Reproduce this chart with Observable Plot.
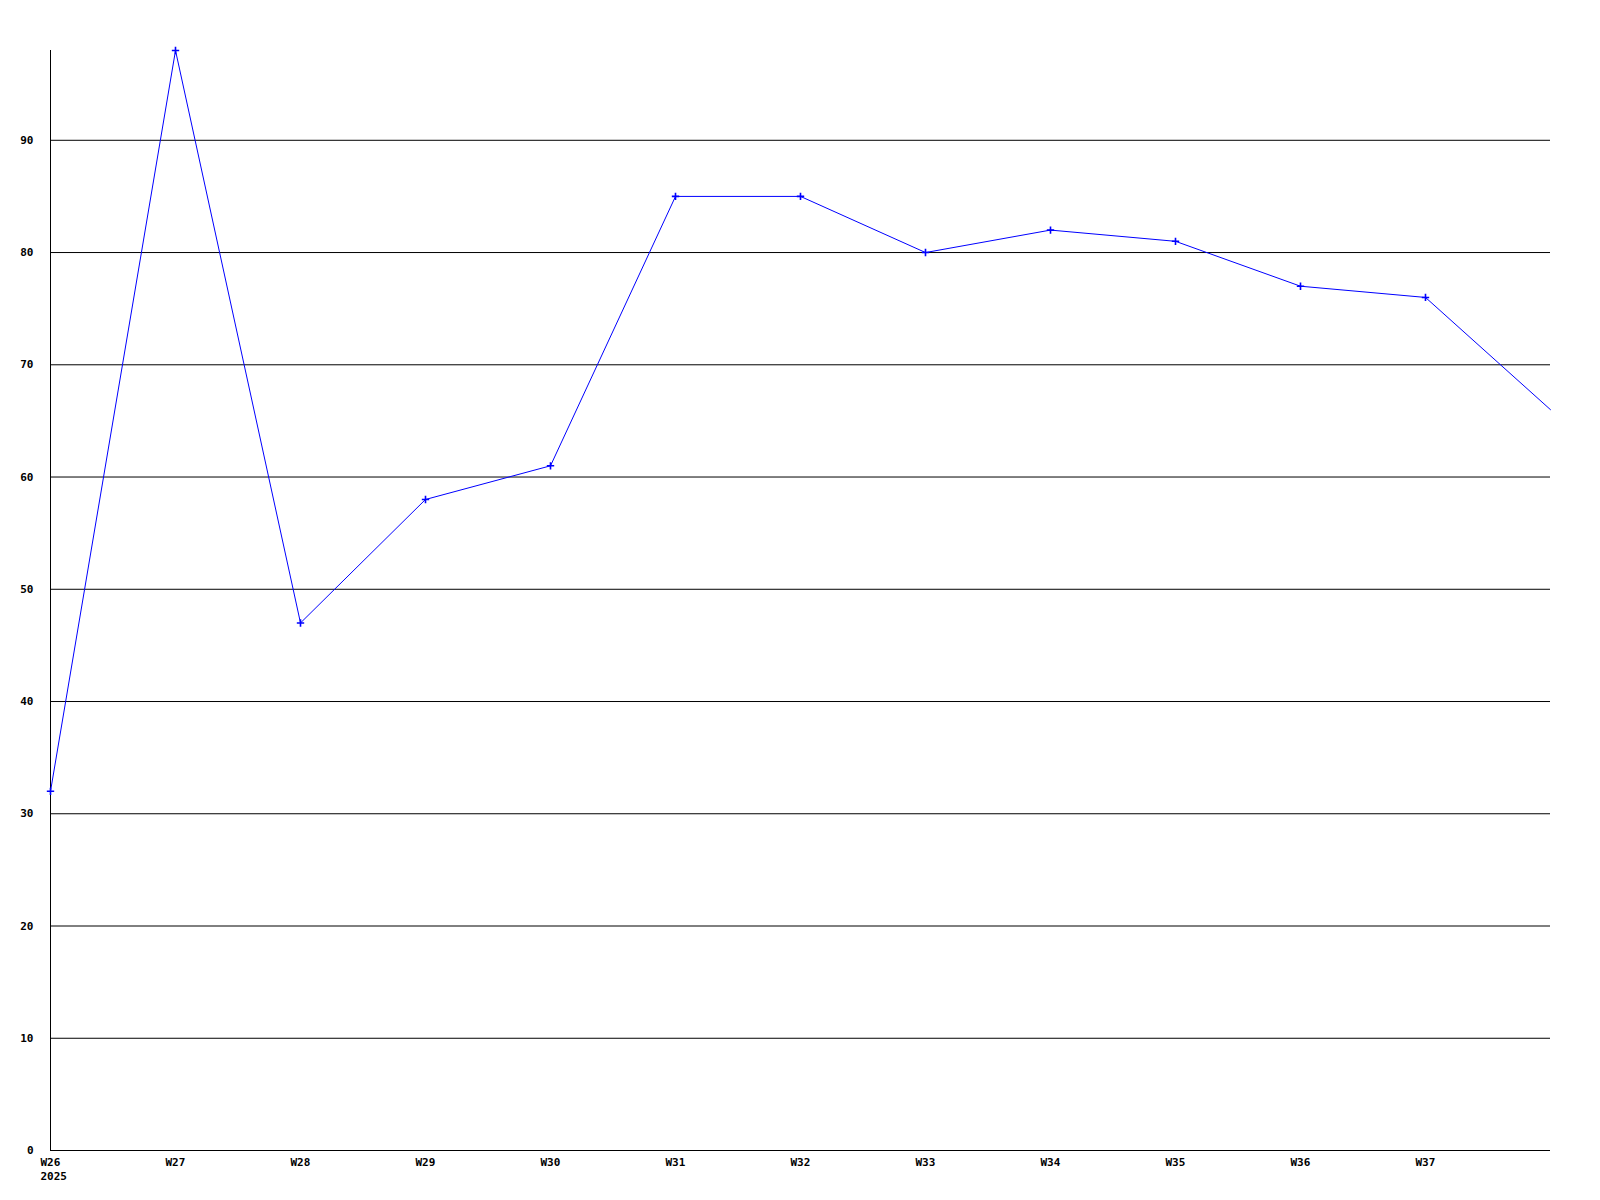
<!DOCTYPE html>
<html>
<head>
<meta charset="utf-8">
<script src="https://cdn.jsdelivr.net/npm/d3@7"></script>
<script src="https://cdn.jsdelivr.net/npm/@observablehq/plot@0.6"></script>
<style>
  html, body { margin: 0; padding: 0; background: #fff; }
  #chart svg { display: block; }
</style>
</head>
<body>
<div id="chart"></div>
<script>
const weeks = [26, 27, 28, 29, 30, 31, 32, 33, 34, 35, 36, 37, 38];
const values = [32, 98, 47, 58, 61, 85, 85, 80, 82, 81, 77, 76, 66];
const xTicks = [26, 27, 28, 29, 30, 31, 32, 33, 34, 35, 36, 37];
const yTicks = [0, 10, 20, 30, 40, 50, 60, 70, 80, 90];
const year = "2025";

const data = weeks.map((w, i) => ({week: w, value: values[i]}));
const font = "'DejaVu Sans Mono', monospace";

const chart = Plot.plot({
  width: 1600,
  height: 1200,
  marginLeft: 50,
  marginRight: 50,
  marginTop: 50,
  marginBottom: 50,
  style: {fontFamily: font, fontSize: "11px", fontWeight: "bold", background: "#fff", color: "#000"},
  x: {domain: [weeks[0], weeks[weeks.length - 1]], axis: null},
  y: {domain: [0, 98], axis: null},
  marks: [
    Plot.ruleY(yTicks, {stroke: "#000", strokeWidth: 1, strokeOpacity: 1}),
    Plot.ruleX([weeks[0]], {stroke: "#000", strokeWidth: 1}),
    Plot.axisY(yTicks, {tickSize: 0, tickPadding: 17, fontFamily: font, fontWeight: "bold", fontSize: 11, fill: "#000", label: null}),
    Plot.axisX(xTicks, {tickSize: 0, tickPadding: 6, fontFamily: font, fontWeight: "bold", fontSize: 11, fill: "#000", lineHeight: 1.25, label: null,
      textAnchor: "start", dx: -10,
      tickFormat: d => d === weeks[0] ? `W${d}\n${year}` : `W${d}`}),
    Plot.line(data, {x: "week", y: "value", stroke: "#0000ff", strokeWidth: 1, curve: "linear"}),
    Plot.dot(data.filter(d => d.week < weeks[weeks.length - 1]), {x: "week", y: "value", symbol: "plus", r: 2.5, stroke: "#0000ff", strokeWidth: 1.6})
  ]
});
document.getElementById("chart").appendChild(chart);
</script>
</body>
</html>
